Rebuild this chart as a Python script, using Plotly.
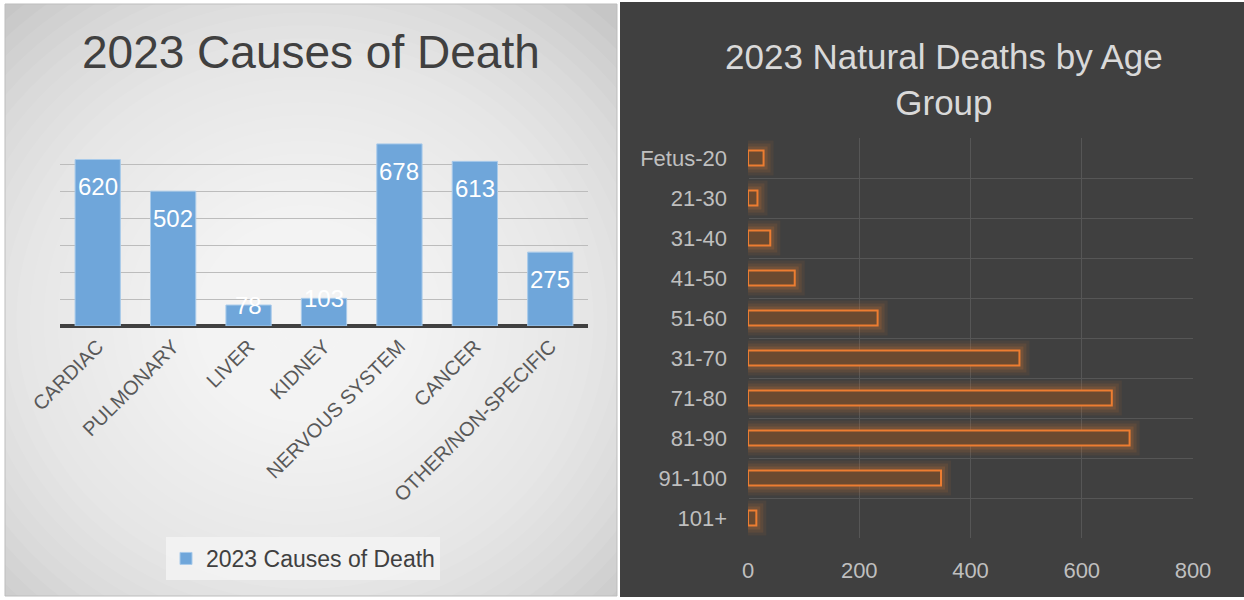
import plotly.graph_objects as go

# data
causes = ["CARDIAC", "PULMONARY", "LIVER", "KIDNEY", "NERVOUS SYSTEM", "CANCER", "OTHER/NON-SPECIFIC"]
cause_deaths = [620, 502, 78, 103, 678, 613, 275]

age_groups = ["Fetus-20", "21-30", "31-40", "41-50", "51-60", "31-70", "71-80", "81-90", "91-100", "101+"]
age_deaths = [28, 17, 40, 84, 233, 488, 654, 686, 347, 15]

W, H = 1244, 600
FONT = "Liberation Sans, Arial, sans-serif"


def px(x):
    return x / W


def py(y):
    return 1 - y / H


fig = go.Figure()

# left chart: vertical bars
fig.add_trace(go.Bar(
    x=causes, y=cause_deaths, name="2023 Causes of Death",
    marker=dict(color="#6fa6da", line=dict(color="#a8caea", width=1)),
    width=0.6, xaxis="x", yaxis="y", hoverinfo="x+y",
))

# right chart: glow layers + outlined bars
for lw, col in [(20, "rgba(237,125,49,0.07)"), (14, "rgba(237,125,49,0.10)"), (8, "rgba(237,125,49,0.16)")]:
    fig.add_trace(go.Bar(
        x=age_deaths, y=age_groups, orientation="h", showlegend=False,
        marker=dict(color="rgba(0,0,0,0)", line=dict(color=col, width=lw)),
        width=0.38, xaxis="x2", yaxis="y2", hoverinfo="skip",
    ))
fig.add_trace(go.Bar(
    x=age_deaths, y=age_groups, orientation="h", showlegend=False,
    marker=dict(color="#6b4a30", line=dict(color="#ed7d31", width=2)),
    width=0.38, xaxis="x2", yaxis="y2",
))

# value labels on the left bars
for c, v in zip(causes, cause_deaths):
    tall = v > 150
    fig.add_annotation(
        x=c, y=v, xref="x", yref="y", text=str(v), showarrow=False,
        xanchor="center", yanchor="top" if tall else "middle", yshift=-12 if tall else 0,
        font=dict(family=FONT, size=24, color="white"),
    )

shapes = [
    dict(type="rect", xref="paper", yref="paper", x0=px(5), x1=px(617), y0=py(596), y1=py(4),
         fillcolor="#c6c6c6", line=dict(width=0), layer="below"),
]
# radial gradient in the left panel
n = 32
for i in range(n):
    f = 1 - i / n
    shapes.append(dict(type="circle", xref="paper", yref="paper",
                       x0=px(305 - 440 * f), x1=px(305 + 440 * f),
                       y0=py(320 + 410 * f), y1=py(320 - 410 * f),
                       fillcolor="white", opacity=0.075, line=dict(width=0), layer="below"))
shapes += [
    dict(type="rect", xref="paper", yref="paper", x0=px(617), x1=px(620), y0=0, y1=1,
         fillcolor="white", line=dict(width=0), layer="below"),
    dict(type="rect", xref="paper", yref="paper", x0=0, x1=px(5), y0=0, y1=1,
         fillcolor="white", line=dict(width=0), layer="below"),
    dict(type="rect", xref="paper", yref="paper", x0=0, x1=px(620), y0=0, y1=py(596),
         fillcolor="white", line=dict(width=0), layer="below"),
    dict(type="rect", xref="paper", yref="paper", x0=px(620), x1=1, y0=py(597), y1=py(2),
         fillcolor="#404040", line=dict(width=0), layer="below"),
    dict(type="rect", xref="paper", yref="paper", x0=px(5), x1=px(617), y0=py(596), y1=py(4),
         fillcolor="rgba(0,0,0,0)", line=dict(color="#bdbdbd", width=1), layer="below"),
]

fig.update_layout(
    width=W, height=H, autosize=False,
    margin=dict(l=0, r=0, t=0, b=0, autoexpand=False),
    paper_bgcolor="white", plot_bgcolor="rgba(0,0,0,0)",
    barmode="overlay",
    font=dict(family=FONT),
    shapes=shapes,
    xaxis=dict(domain=[px(60), px(588)], showgrid=False, ticks="", tickangle=-45,
               tickfont=dict(family=FONT, size=20, color="#595959"), ticklabelstandoff=4,
               automargin=False, fixedrange=True),
    yaxis=dict(domain=[py(326), py(138)], range=[0, 700], dtick=100, showticklabels=False,
               gridcolor="#bcbcbc", gridwidth=1, zeroline=True, zerolinecolor="#404040",
               zerolinewidth=4, automargin=False, fixedrange=True),
    xaxis2=dict(domain=[px(748), px(1193)], range=[0, 800], tickvals=[0, 200, 400, 600, 800],
                gridcolor="#565656", gridwidth=1, zeroline=True, zerolinecolor="#404040",
                tickfont=dict(family=FONT, size=22, color="#bfbfbf"), ticklabelstandoff=17,
                anchor="y2", automargin=False, fixedrange=True),
    yaxis2=dict(domain=[py(538), py(138)], autorange="reversed", tickson="boundaries",
                gridcolor="#565656", gridwidth=1, ticks="",
                tickfont=dict(family=FONT, size=22, color="#bfbfbf"), ticklabelstandoff=20,
                anchor="x2", automargin=False, fixedrange=True),
    legend=dict(x=px(166), y=py(537), xanchor="left", yanchor="top", orientation="h",
                bgcolor="rgba(243,243,243,0.85)", font=dict(family=FONT, size=23, color="#404040"),
                itemwidth=30),
    showlegend=True,
)

fig.add_annotation(text="2023 Causes of Death", xref="paper", yref="paper", x=px(311), y=py(52),
                   xanchor="center", yanchor="middle", showarrow=False,
                   font=dict(family=FONT, size=46, color="#404040"))
fig.add_annotation(text="2023 Natural Deaths by Age<br>Group", xref="paper", yref="paper",
                   x=px(944), y=py(80), xanchor="center", yanchor="middle", showarrow=False,
                   font=dict(family=FONT, size=35, color="#d9d9d9"))

fig.write_html("out.html", config={"displayModeBar": False},
               post_script="document.body.style.margin='0';")
